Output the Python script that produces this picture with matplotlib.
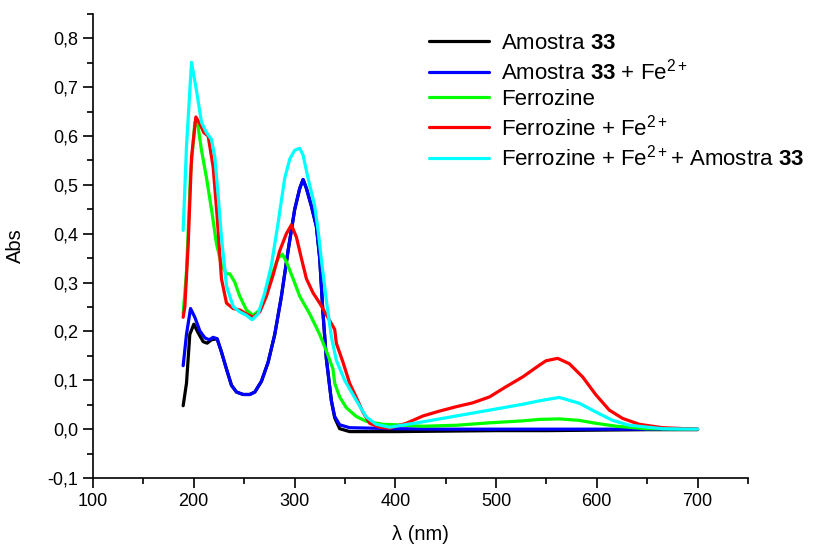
import numpy as np
import matplotlib
matplotlib.use('Agg')
import matplotlib.pyplot as plt
from matplotlib.ticker import MultipleLocator

plt.rcParams['font.family'] = ['Liberation Sans', 'DejaVu Sans']
plt.rcParams['mathtext.fontset'] = 'custom'
plt.rcParams['mathtext.rm'] = 'Liberation Sans'
plt.rcParams['mathtext.bf'] = 'Liberation Sans:bold'
plt.rcParams['mathtext.it'] = 'Liberation Sans:italic'

# Amostra 33
wl_amostra = [189.5, 192.8, 196.1, 200.1, 204.4, 209.4, 213.3, 217.6, 223.2, 227.5, 232.5, 237.4,
              242.4, 249.0, 255.6, 260.6, 267.2, 273.8, 280.4, 287.0, 293.6, 300.2, 305.2, 308.5,
              311.8, 316.7, 321.7, 325.0, 328.3, 331.6, 336.6, 339.9, 344.8, 354.7, 400, 450, 500,
              550, 600, 650, 700]
abs_amostra = [0.048, 0.094, 0.194, 0.215, 0.197, 0.179, 0.176, 0.183, 0.185, 0.158, 0.123, 0.090,
               0.076, 0.071, 0.071, 0.076, 0.098, 0.137, 0.194, 0.272, 0.365, 0.450, 0.493, 0.511,
               0.493, 0.457, 0.415, 0.350, 0.236, 0.144, 0.058, 0.023, 0.001, -0.005, -0.005, -0.004,
               -0.003, -0.003, -0.002, -0.001, -0.001]

# Amostra 33 + Fe2+
wl_amostra_fe = [189.5, 192.8, 196.8, 201.1, 206.1, 211.0, 215.3, 219.3, 223.2, 227.5, 232.5, 237.4,
                 242.4, 249.0, 255.6, 260.6, 267.2, 273.8, 280.4, 287.0, 293.6, 300.2, 305.2, 308.5,
                 311.8, 316.7, 321.7, 325.0, 328.3, 331.6, 336.6, 339.9, 344.8, 354.7, 400, 450, 500,
                 550, 600, 650, 700]
abs_amostra_fe = [0.130, 0.194, 0.247, 0.229, 0.201, 0.187, 0.183, 0.188, 0.185, 0.158, 0.123, 0.090,
                  0.076, 0.071, 0.071, 0.076, 0.098, 0.137, 0.194, 0.272, 0.365, 0.450, 0.493, 0.511,
                  0.493, 0.457, 0.415, 0.350, 0.236, 0.144, 0.058, 0.026, 0.009, 0.003, 0.001, 0.0,
                  0.0, 0.0, 0.0, 0.0, 0.0]

# Ferrozine
wl_ferrozine = [189.5, 192.8, 196.8, 201.1, 203.4, 207.7, 212.7, 217.6, 222.6, 227.5, 232.5, 235.8,
                240.7, 245.7, 252.3, 258.9, 265.5, 272.1, 278.7, 283.7, 288.0, 291.9, 298.6, 305.2,
                315.1, 325.0, 333.3, 338.2, 339.9, 344.8, 351.4, 361.3, 371.2, 387.8, 401, 427.4,
                460.5, 493.5, 526.5, 543, 562.8, 582.7, 599, 619.6, 648.7, 700]
abs_ferrozine = [0.236, 0.322, 0.521, 0.628, 0.632, 0.571, 0.514, 0.450, 0.379, 0.336, 0.318, 0.318,
                 0.301, 0.272, 0.244, 0.233, 0.244, 0.279, 0.322, 0.350, 0.358, 0.343, 0.308, 0.272,
                 0.236, 0.194, 0.151, 0.123, 0.094, 0.066, 0.044, 0.026, 0.016, 0.010, 0.009, 0.006,
                 0.008, 0.013, 0.017, 0.020, 0.021, 0.018, 0.012, 0.006, 0.001, 0.0]

# Ferrozine + Fe2+
wl_ferrozine_fe = [189.5, 191.2, 194.5, 197.8, 202.1, 206.1, 210.0, 214.3, 219.3, 223.2, 227.5, 232.5,
                   239.1, 245.7, 252.3, 258.9, 265.5, 272.1, 278.7, 285.3, 291.9, 296.9, 301.9, 306.8,
                   311.8, 318.4, 325.0, 330.0, 335.0, 339.9, 341.5, 348.1, 354.7, 361.3, 367.9, 374.6,
                   384.5, 394.4, 410.9, 427.4, 443.9, 460.5, 477, 493.5, 510, 526.5, 543, 549.6, 561.2,
                   572.7, 585.9, 599.2, 612.4, 625.6, 642.1, 665.2, 700]
abs_ferrozine_fe = [0.229, 0.251, 0.379, 0.557, 0.639, 0.625, 0.607, 0.600, 0.536, 0.436, 0.308, 0.258,
                    0.247, 0.244, 0.236, 0.229, 0.240, 0.272, 0.315, 0.365, 0.400, 0.418, 0.393, 0.350,
                    0.308, 0.279, 0.258, 0.240, 0.222, 0.204, 0.176, 0.137, 0.094, 0.065, 0.035, 0.012,
                    0.004, 0.002, 0.012, 0.027, 0.037, 0.046, 0.054, 0.066, 0.087, 0.107, 0.131, 0.140,
                    0.145, 0.134, 0.107, 0.070, 0.039, 0.022, 0.010, 0.003, 0.0]

# Ferrozine + Fe2+ + Amostra 33
wl_mix = [189.5, 192.8, 197.8, 202.8, 207.7, 212.7, 217.6, 220.9, 224.2, 227.5, 232.5, 239.1, 245.7,
          252.3, 257.9, 263.9, 270.5, 277.1, 283.7, 290.3, 295.3, 300.2, 305.2, 308.5, 313.4, 320.0,
          323.4, 326.7, 331.6, 336.6, 341.5, 349.8, 361.3, 371.2, 381.0, 394.4, 427.4, 460.5, 493.5,
          526.5, 543, 562.8, 582.7, 599.2, 615.7, 632.2, 665.2, 700]
abs_mix = [0.407, 0.578, 0.751, 0.692, 0.628, 0.607, 0.593, 0.557, 0.479, 0.393, 0.293, 0.251, 0.240,
           0.233, 0.224, 0.236, 0.279, 0.336, 0.422, 0.514, 0.553, 0.571, 0.575, 0.561, 0.514, 0.457,
           0.407, 0.346, 0.264, 0.189, 0.141, 0.100, 0.059, 0.025, 0.010, 0.004, 0.015, 0.027, 0.039,
           0.051, 0.058, 0.065, 0.053, 0.035, 0.018, 0.008, 0.001, 0.0]

y_ticks = [-0.1, 0.0, 0.1, 0.2, 0.3, 0.4, 0.5, 0.6, 0.7, 0.8]
y_labels = ['-0,1', '0,0', '0,1', '0,2', '0,3', '0,4', '0,5', '0,6', '0,7', '0,8']
x_ticks = [100, 200, 300, 400, 500, 600, 700]

fig = plt.figure(figsize=(8.17, 5.46), dpi=100)
ax = fig.add_axes([0.1138, 0.1245, 0.8017, 0.85])

lw = 2.3
style = dict(lw=lw, solid_joinstyle='round', solid_capstyle='round')
ax.plot(wl_amostra, abs_amostra, color='black', label=r'Amostra $\mathbf{33}$', **style)
ax.plot(wl_amostra_fe, abs_amostra_fe, color='#0000ff', label=r'Amostra $\mathbf{33}$ + Fe$^{2+}$', **style)
ax.plot(wl_ferrozine, abs_ferrozine, color='#00ff00', label='Ferrozine', **style)
ax.plot(wl_ferrozine_fe, abs_ferrozine_fe, color='#ff0000', label=r'Ferrozine + Fe$^{2+}$', **style)
ax.plot(wl_mix, abs_mix, color='#00ffff', label=r'Ferrozine + Fe$^{2+}$+ Amostra $\mathbf{33}$', **style)

ax.set_xlim(100, 750)
ax.set_ylim(-0.1, 0.85)
ax.set_xticks(x_ticks)
ax.set_yticks(y_ticks)
ax.set_yticklabels(y_labels)
ax.xaxis.set_minor_locator(MultipleLocator(50))
ax.yaxis.set_minor_locator(MultipleLocator(0.05))

for s in ['top', 'right']:
    ax.spines[s].set_visible(False)
for s in ['left', 'bottom']:
    ax.spines[s].set_linewidth(1.2)
ax.tick_params(which='major', direction='out', length=7, width=1.2, labelsize=13)
ax.tick_params(which='minor', direction='out', length=4, width=1.2)

ax.set_xlabel('λ (nm)', fontsize=14.5, labelpad=11)
ax.set_ylabel('Abs', fontsize=14.5, labelpad=16)

leg = ax.legend(loc='upper left', bbox_to_anchor=(0.511, 0.960), bbox_transform=fig.transFigure,
                frameon=False, fontsize=16, handlelength=2.7, handletextpad=0.55, labelspacing=0.2,
                borderpad=0)
for h in leg.legend_handles:
    h.set_linewidth(2.3)

plt.savefig('out.png', dpi=100)
